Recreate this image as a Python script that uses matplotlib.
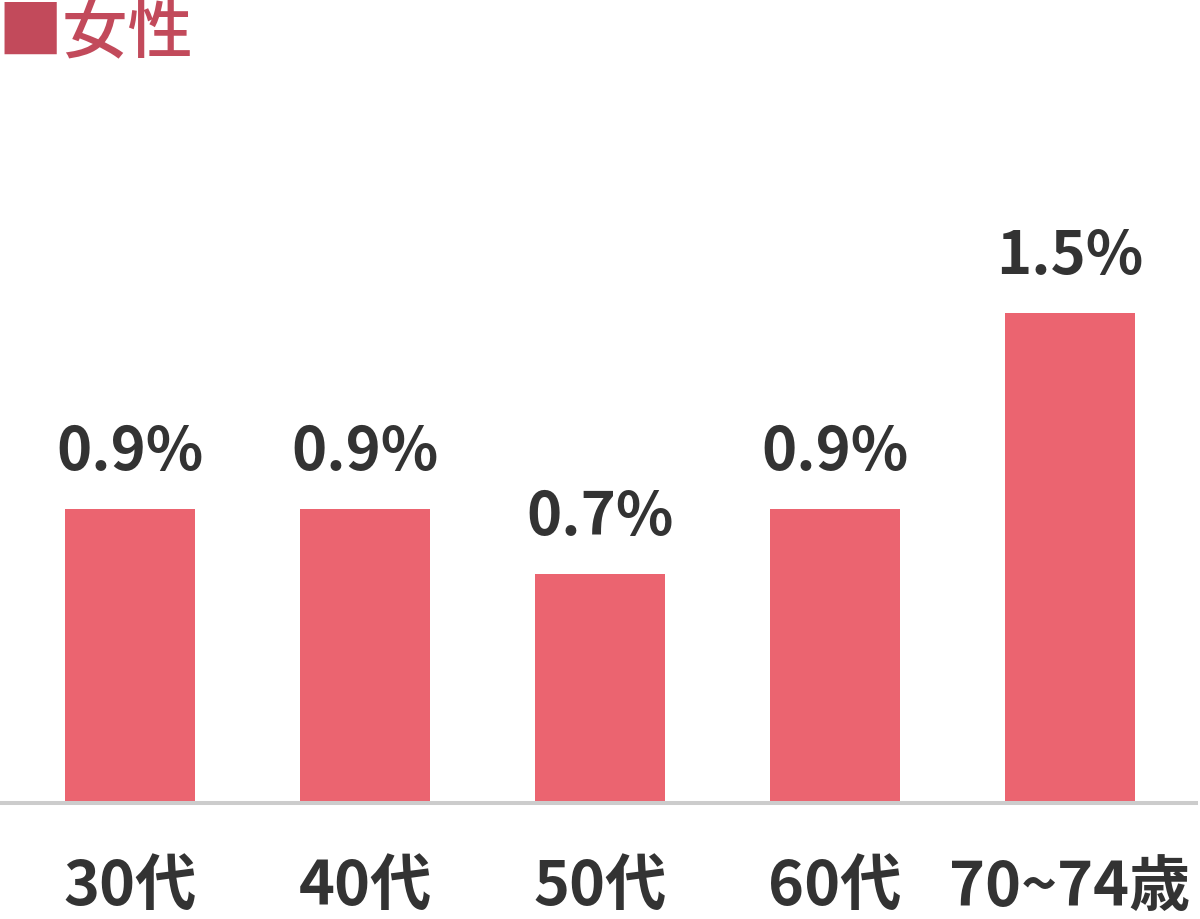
import matplotlib
matplotlib.use('Agg')
from matplotlib import pyplot as plt

plt.rcParams['font.family'] = ['Noto Sans CJK JP', 'DejaVu Sans']

categories = ['30代', '40代', '50代', '60代', '70~74歳']
values = [0.9, 0.9, 0.7, 0.9, 1.5]
value_labels = ['0.9%', '0.9%', '0.7%', '0.9%', '1.5%']
title = '■女性'

bar_color = '#eb6470'
text_color = '#333333'
title_color = '#c24a5b'

W, H = 1200, 919
fig = plt.figure(figsize=(W / 100, H / 100), dpi=100)
ax = fig.add_axes([0, 116 / H, 1, 803 / H])

x = list(range(len(categories)))
ax.bar(x, values, width=0.553, color=bar_color, zorder=2)
ax.set_xlim(-0.553, 4.553)
ax.set_ylim(0, 2.458)
ax.axhline(0, xmax=0.997, color='#cccccc', lw=2.9, zorder=3, clip_on=False)

for xi, v, lab in zip(x, values, value_labels):
    ax.annotate(lab, (xi, v), xytext=(0, 28), textcoords='offset points',
                ha='center', va='baseline', fontsize=43, fontweight='bold',
                color=text_color)

ax.set_xticks(x)
ax.set_xticklabels(categories, fontsize=44, fontweight='bold', color=text_color)
ax.tick_params(axis='x', length=0, pad=39)
ax.set_yticks([])
for s in ax.spines.values():
    s.set_visible(False)

fig.text(-0.002, 1 - 1 / H, title, ha='left', va='top', fontsize=47,
         fontweight='medium', color=title_color)

fig.savefig('out.png', dpi=100)
